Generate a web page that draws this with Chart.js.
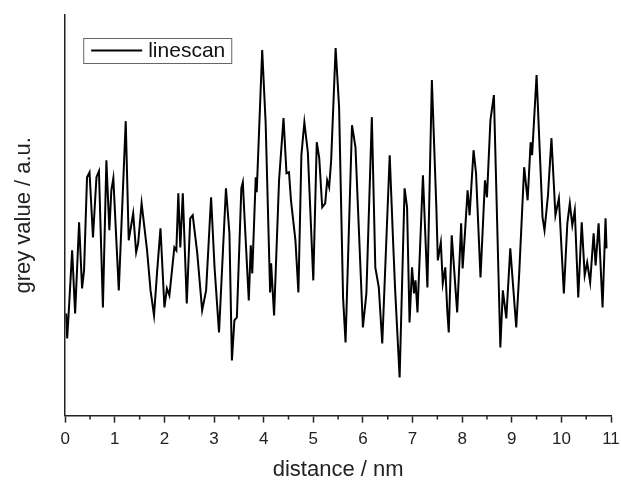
<!DOCTYPE html>
<html>
<head>
<meta charset="utf-8">
<script src="https://cdn.jsdelivr.net/npm/chart.js@4.4.0/dist/chart.umd.min.js"></script>
<style>
    html, body { margin: 0; padding: 0; background: #fff; }
    #wrap { width: 621px; height: 481px; }
</style>
</head>
<body>
<div id="wrap"><canvas id="scanChart" width="621" height="481"></canvas></div>
<script>
// line scan data (distance in nm, grey value in a.u.)
const distance = [
    0.02, 0.04, 0.07, 0.14, 0.20, 0.28, 0.34, 0.38, 0.44, 0.49, 0.56, 0.63, 0.68, 0.76, 0.83, 0.89, 0.93, 0.97,
    1.08, 1.22, 1.28, 1.37, 1.43, 1.47, 1.54, 1.65, 1.72, 1.79, 1.85, 1.92,
    2.00, 2.05, 2.10, 2.20, 2.24, 2.28, 2.32, 2.37, 2.45, 2.52, 2.57, 2.66, 2.76, 2.84, 2.94,
    3.01, 3.10, 3.24, 3.31, 3.36, 3.41, 3.46, 3.55, 3.58, 3.61, 3.70, 3.74, 3.77, 3.84, 3.86, 3.97,
    4.04, 4.13, 4.15, 4.21, 4.31, 4.40, 4.46, 4.51, 4.55, 4.64, 4.70, 4.76, 4.82, 4.89,
    5.00, 5.07, 5.12, 5.18, 5.24, 5.28, 5.32, 5.36, 5.45, 5.52, 5.60, 5.65, 5.78, 5.85,
    6.00, 6.07, 6.18, 6.25, 6.32, 6.39, 6.54, 6.61, 6.65, 6.74, 6.84, 6.89, 6.94, 6.99,
    7.03, 7.06, 7.10, 7.21, 7.30, 7.39, 7.48, 7.51, 7.57, 7.61, 7.66, 7.70, 7.73, 7.79, 7.90, 7.98,
    8.01, 8.06, 8.11, 8.15, 8.23, 8.28, 8.37, 8.46, 8.50, 8.57, 8.64, 8.77, 8.82, 8.89, 8.97,
    9.09, 9.15, 9.25, 9.32, 9.38, 9.41, 9.50, 9.62, 9.66, 9.73, 9.80, 9.88, 9.95,
    10.05, 10.12, 10.17, 10.22, 10.27, 10.34, 10.41, 10.47, 10.52, 10.58, 10.65, 10.69, 10.75, 10.83, 10.89, 10.91
];
const greyValue = [
    102, 77, 102, 165, 102, 193, 127, 145, 238, 243, 178, 238, 244, 108, 255, 185, 225, 237,
    125, 294, 175, 202, 163, 172, 212, 165, 125, 100, 142, 187,
    108, 127, 120, 168, 165, 222, 168, 222, 112, 197, 200, 163, 105, 125, 218,
    148, 83, 227, 182, 55, 95, 98, 227, 233, 202, 115, 170, 142, 238, 223, 365,
    292, 123, 152, 100, 235, 297, 242, 243, 215, 175, 123, 260, 293, 263,
    135, 273, 257, 208, 212, 235, 228, 255, 367, 308, 118, 73, 290, 268,
    88, 122, 298, 148, 128, 72, 260, 172, 125, 38, 227, 208, 93, 148,
    122, 135, 103, 240, 128, 335, 208, 155, 173, 132, 148, 105, 83, 180, 103, 192,
    147, 185, 225, 200, 265, 242, 138, 235, 218, 295, 320, 68, 125, 97, 167,
    88, 142, 248, 215, 273, 260, 340, 198, 185, 220, 277, 200, 217,
    122, 192, 212, 190, 205, 118, 193, 140, 153, 133, 182, 150, 192, 108, 197, 167
];

const xTicks = [0, 1, 2, 3, 4, 5, 6, 7, 8, 9, 10, 11];
const xMinorTicks = [0.5, 1.5, 2.5, 3.5, 4.5, 5.5, 6.5, 7.5, 8.5, 9.5, 10.5];
const seriesLabel = 'linescan';

const axisColor = '#222';
const fontFamily = '"Liberation Sans", Arial, sans-serif';

// half-step ticks on the x axis
const minorTickPlugin = {
    id: 'minorTicks',
    afterDraw(chart) {
        const ctx = chart.ctx;
        const xScale = chart.scales.x;
        const y0 = chart.chartArea.bottom;
        ctx.save();
        ctx.strokeStyle = axisColor;
        ctx.lineWidth = 1.5;
        xMinorTicks.forEach(v => {
            const px = xScale.getPixelForValue(v);
            ctx.beginPath();
            ctx.moveTo(px, y0);
            ctx.lineTo(px, y0 + 4);
            ctx.stroke();
        });
        ctx.restore();
    }
};

// boxed legend inside the plot, top left
const legendBoxPlugin = {
    id: 'legendBox',
    afterDraw(chart) {
        const ctx = chart.ctx;
        const area = chart.chartArea;
        const ds = chart.data.datasets[0];
        const bx = area.left + 18;
        const by = area.top + 23;
        ctx.save();
        ctx.font = '21px ' + fontFamily;
        const textW = ctx.measureText(ds.label).width;
        const w = 8 + 51 + 6 + textW + 6;
        const h = 25;
        ctx.strokeStyle = '#666';
        ctx.lineWidth = 1;
        ctx.strokeRect(bx + 0.5, by + 0.5, w, h);
        ctx.strokeStyle = ds.borderColor;
        ctx.lineWidth = 2;
        ctx.beginPath();
        ctx.moveTo(bx + 8, by + 12.5);
        ctx.lineTo(bx + 59, by + 12.5);
        ctx.stroke();
        ctx.fillStyle = '#111';
        ctx.textBaseline = 'middle';
        ctx.fillText(ds.label, bx + 65, by + 13);
        ctx.restore();
    }
};

const ctx = document.getElementById('scanChart').getContext('2d');
const chart = new Chart(ctx, {
    type: 'line',
    data: {
        datasets: [{
            label: seriesLabel,
            data: distance.map((d, i) => ({ x: d, y: greyValue[i] })),
            borderColor: '#000',
            borderWidth: 2,
            pointRadius: 0,
            tension: 0,
            fill: false
        }]
    },
    options: {
        responsive: false,
        animation: false,
        layout: {
            padding: { left: 5, right: 0, top: 15, bottom: 0 }
        },
        scales: {
            x: {
                type: 'linear',
                min: 0,
                max: 11,
                afterBuildTicks: scale => {
                    scale.ticks = xTicks.map(v => ({ value: v }));
                },
                // only keep half of the "11" label as right overhang
                afterFit: scale => {
                    scale.paddingRight = 10;
                },
                grid: {
                    drawOnChartArea: false,
                    drawTicks: true,
                    tickLength: 7,
                    tickColor: axisColor,
                    tickWidth: 1.5
                },
                border: { color: axisColor, width: 1.5 },
                ticks: {
                    color: '#222',
                    padding: 7,
                    maxRotation: 0,
                    font: { family: fontFamily, size: 17 }
                },
                title: {
                    display: true,
                    text: 'distance / nm',
                    color: '#222',
                    padding: { top: 2, bottom: 0 },
                    font: { family: fontFamily, size: 22, lineHeight: 1 }
                }
            },
            y: {
                min: 0,
                max: 400,
                grid: { display: false, drawTicks: false },
                border: { color: axisColor, width: 1.5 },
                ticks: { display: false },
                title: {
                    display: true,
                    text: 'grey value / a.u.',
                    color: '#222',
                    padding: { top: 7, bottom: 29 },
                    font: { family: fontFamily, size: 22, lineHeight: 1.1 }
                }
            }
        },
        plugins: {
            legend: { display: false },
            tooltip: { enabled: false }
        }
    },
    plugins: [minorTickPlugin, legendBoxPlugin]
});
</script>
</body>
</html>
